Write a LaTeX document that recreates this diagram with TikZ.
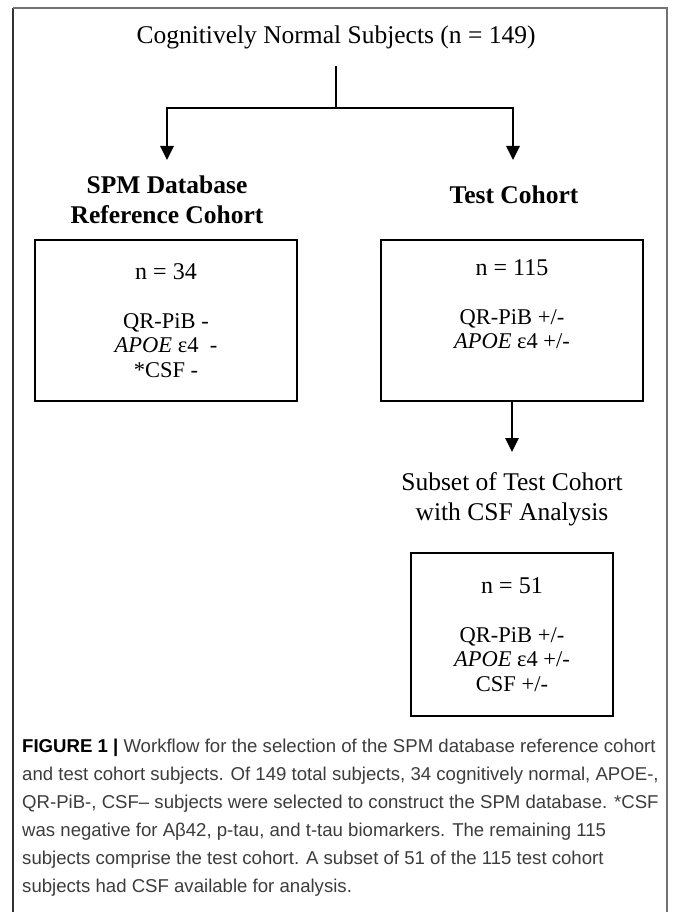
\documentclass[tikz,border=0pt]{standalone}
\usepackage{fontspec}
\setmainfont{Liberation Serif}
\setsansfont{Liberation Sans}
\usepackage{xcolor}
\usetikzlibrary{arrows.meta, positioning}
\definecolor{captiongray}{HTML}{3C3C3C}
\tikzset{
    line/.style={line width=2.6pt}, % plain connector
    arrow/.style={line width=2.6pt, -{Triangle[width=13pt,length=14pt]}}, % connector with head
    cohort/.style={draw, line width=2.6pt, minimum width=262pt, minimum height=161pt, align=center,
        font=\fontsize{22.5}{24.5}\selectfont}, % boxes with counts
    heading/.style={align=center, font=\fontsize{25.5}{30}\selectfont}, % texts above boxes
    frame/.style={line width=1.6pt}, % outer frame of the figure
}
\newcommand{\nline}[1]{{\fontsize{24}{24}\selectfont n = #1}\\[24pt]}

\begin{document}
\begin{tikzpicture}[x=1pt, y=-1pt]
    \useasboundingbox (0,0) rectangle (672,912);
    % frame
    \draw[frame, black!80] (13,912) -- (13,8);
    \draw[frame, black!55] (13,8) -- (667,8) -- (667,912);

    \node[heading] (cns) at (336,37) {Cognitively Normal Subjects (n = 149)};
    \coordinate (split) at (336,108);
    \coordinate (spmin) at (167,160);
    \coordinate (testin) at (513,160);

    \node[heading, font=\bfseries\fontsize{25.5}{30}\selectfont] (spm) at (167,200) {SPM Database\\Reference Cohort};
    \node[heading, font=\bfseries\fontsize{25.5}{30}\selectfont] (test) at (514,195) {Test Cohort};

    \node[cohort] (refbox) at (166,320.5) {\nline{34}QR-PiB -\\\textit{APOE} ε4 \ -\\*CSF -};
    \node[cohort] (testbox) at (512,320.5) {\nline{115}QR-PiB +/-\\\textit{APOE} ε4 +/-\\\strut};

    \coordinate (subin) at (512,452);
    \node[heading] (sub) at (512,499.5) {Subset of Test Cohort\\with CSF Analysis};
    \node[cohort, minimum width=202pt, minimum height=163pt] (subbox) at (512,634.5)
        {\nline{51}QR-PiB +/-\\\textit{APOE} ε4 +/-\\CSF +/-};

    \draw[line] ([yshift=-14pt]cns.south) -- (split);
    \draw[arrow] (split) -| (spmin);
    \draw[arrow] (split) -| (testin);
    \draw[arrow] (testbox.south) -- (subin);

    % caption
    \node[anchor=north west, inner sep=0pt, align=left, text=captiongray,
          font=\sffamily\fontsize{18.6}{28}\selectfont] (caption) at (22,739)
        {{\color{black}\bfseries FIGURE 1 |} Workflow for the selection of the SPM database reference cohort\\
         and test cohort subjects. Of 149 total subjects, 34 cognitively normal, APOE-,\\
         QR-PiB-, CSF– subjects were selected to construct the SPM database. *CSF\\
         was negative for Aβ42, p-tau, and t-tau biomarkers. The remaining 115\\
         subjects comprise the test cohort. A subset of 51 of the 115 test cohort\\
         subjects had CSF available for analysis.};
\end{tikzpicture}
\end{document}
